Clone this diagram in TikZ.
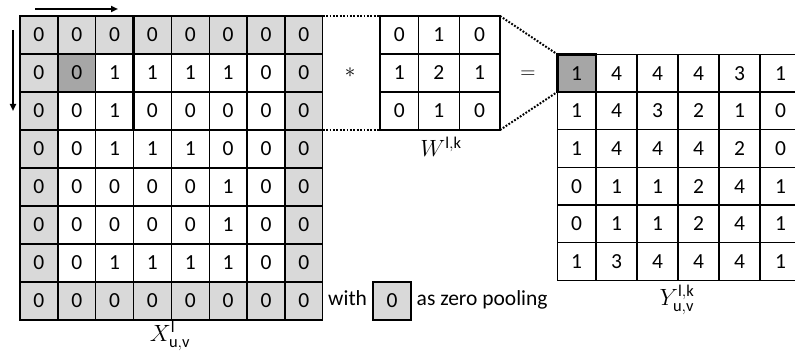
\RequirePackage{fix-cm}
\documentclass[tikz,border=0pt]{standalone}
\usepackage{fontspec}
\setmainfont{Carlito}
\usetikzlibrary{arrows.meta}
\definecolor{padgray}{HTML}{D9D9D9}
\definecolor{hotgray}{HTML}{A6A6A6}
\begin{document}
\begin{tikzpicture}[x=1pt,y=-1pt,
  cell/.style={draw,line width=1.4pt,inner sep=0pt,outer sep=0pt,
    font=\fontsize{21.5}{24}\selectfont},
  boldframe/.style={line width=2.8pt},
  dotline/.style={line width=2pt,dash pattern=on 1.8pt off 1.6pt},
  scanarrow/.style={line width=2pt,-{Triangle[length=7pt,width=6pt]}},
  oplabel/.style={font=\fontsize{21}{24}\selectfont,inner sep=0pt},
  mathlabel/.style={font=\fontsize{23.5}{26}\selectfont,inner sep=0pt},
  plaintext/.style={font=\fontsize{21.5}{24}\selectfont,inner sep=0pt,anchor=base west}]
\useasboundingbox (0,0) rectangle (795,352);

% input map X with its zero-padding ring
\foreach \row [count=\r from 0] in
  {{0,0,0,0,0,0,0,0},{0,0,1,1,1,1,0,0},{0,0,1,0,0,0,0,0},{0,0,1,1,1,0,0,0},
   {0,0,0,0,0,1,0,0},{0,0,0,0,0,1,0,0},{0,0,1,1,1,1,0,0},{0,0,0,0,0,0,0,0}} {
  \foreach \v [count=\c from 0] in \row {
    \pgfmathtruncatemacro\edge{(\r==0)||(\r==7)||(\c==0)||(\c==7)}
    \ifnum\edge=1 \def\fc{padgray}\else\def\fc{white}\fi
    \ifnum\r=1 \ifnum\c=1 \def\fc{hotgray}\fi\fi
    \node[cell,fill=\fc,minimum width=37.84pt,minimum height=38pt]
      (x-\r-\c) at (20+37.84*\c+18.92, 16+38*\r+19) {\v};
  }
}
% current 3x3 window
\draw[boldframe] (x-0-0.north west) rectangle (x-2-2.south east);

% scanning direction arrows
\coordinate (hs) at (35,9);  \coordinate (he) at (118,9);
\coordinate (vs) at (13,30); \coordinate (ve) at (13,111);
\draw[scanarrow] (hs) -- (he);
\draw[scanarrow] (vs) -- (ve);

% kernel W
\foreach \row [count=\r from 0] in {{0,1,0},{1,2,1},{0,1,0}} {
  \foreach \v [count=\c from 0] in \row {
    \pgfmathsetmacro\xl{\c==0 ? 380 : 418.5+40.75*(\c-1)}
    \pgfmathsetmacro\w{\c==0 ? 38.5 : 40.75}
    \node[cell,minimum width=\w pt,minimum height=38pt]
      (w-\r-\c) at (\xl+\w/2, 16+38*\r+19) {\v};
  }
}
\draw[boldframe] (w-0-0.north west) rectangle (w-2-2.south east);

% output map Y
\foreach \row [count=\r from 0] in
  {{1,4,4,4,3,1},{1,4,3,2,1,0},{1,4,4,4,2,0},{0,1,1,2,4,1},{0,1,1,2,4,1},{1,3,4,4,4,1}} {
  \foreach \v [count=\c from 0] in \row {
    \pgfmathsetmacro\xl{\c==0 ? 557.3 : 596+41*(\c-1)}
    \pgfmathsetmacro\w{\c==0 ? 38.7 : 41}
    \ifnum\r=0 \ifnum\c=0 \def\fc{hotgray}\else\def\fc{white}\fi\else\def\fc{white}\fi
    \node[cell,fill=\fc,minimum width=\w pt,minimum height=37.7pt]
      (y-\r-\c) at (\xl+\w/2, 54.3+37.7*\r+18.85) {\v};
  }
}
\draw[boldframe] (y-0-0.north west) rectangle (y-0-0.south east);

% projection lines
\draw[dotline] (x-0-7.north east) -- (w-0-0.north west);
\draw[dotline] (x-2-7.south east) -- (w-2-0.south west);
\draw[dotline] (w-0-2.north east) -- (y-0-0.north west);
\draw[dotline] (w-2-2.south east) -- (y-0-0.south west);

% operators
\node[oplabel] (conv) at (350,73) {$*$};
\node[oplabel] (eq) at (528,75) {$=$};

% labels
\node[mathlabel] (xlab) at (170,336) {$X^{\mathrm{l}}_{\mathrm{u,v}}$};
\node[mathlabel] (wlab) at (441,147) {$W^{\mathrm{l,k}}$};
\node[mathlabel] (ylab) at (677,300) {$Y^{\mathrm{l,k}}_{\mathrm{u,v}}$};

% legend
\node[plaintext] (with) at (328,306) {with};
\node[cell,fill=padgray,minimum width=38pt,minimum height=38pt] (pad) at (392,301) {0};
\node[plaintext] (pooling) at (416.5,306) {as zero pooling};
\end{tikzpicture}
\end{document}
